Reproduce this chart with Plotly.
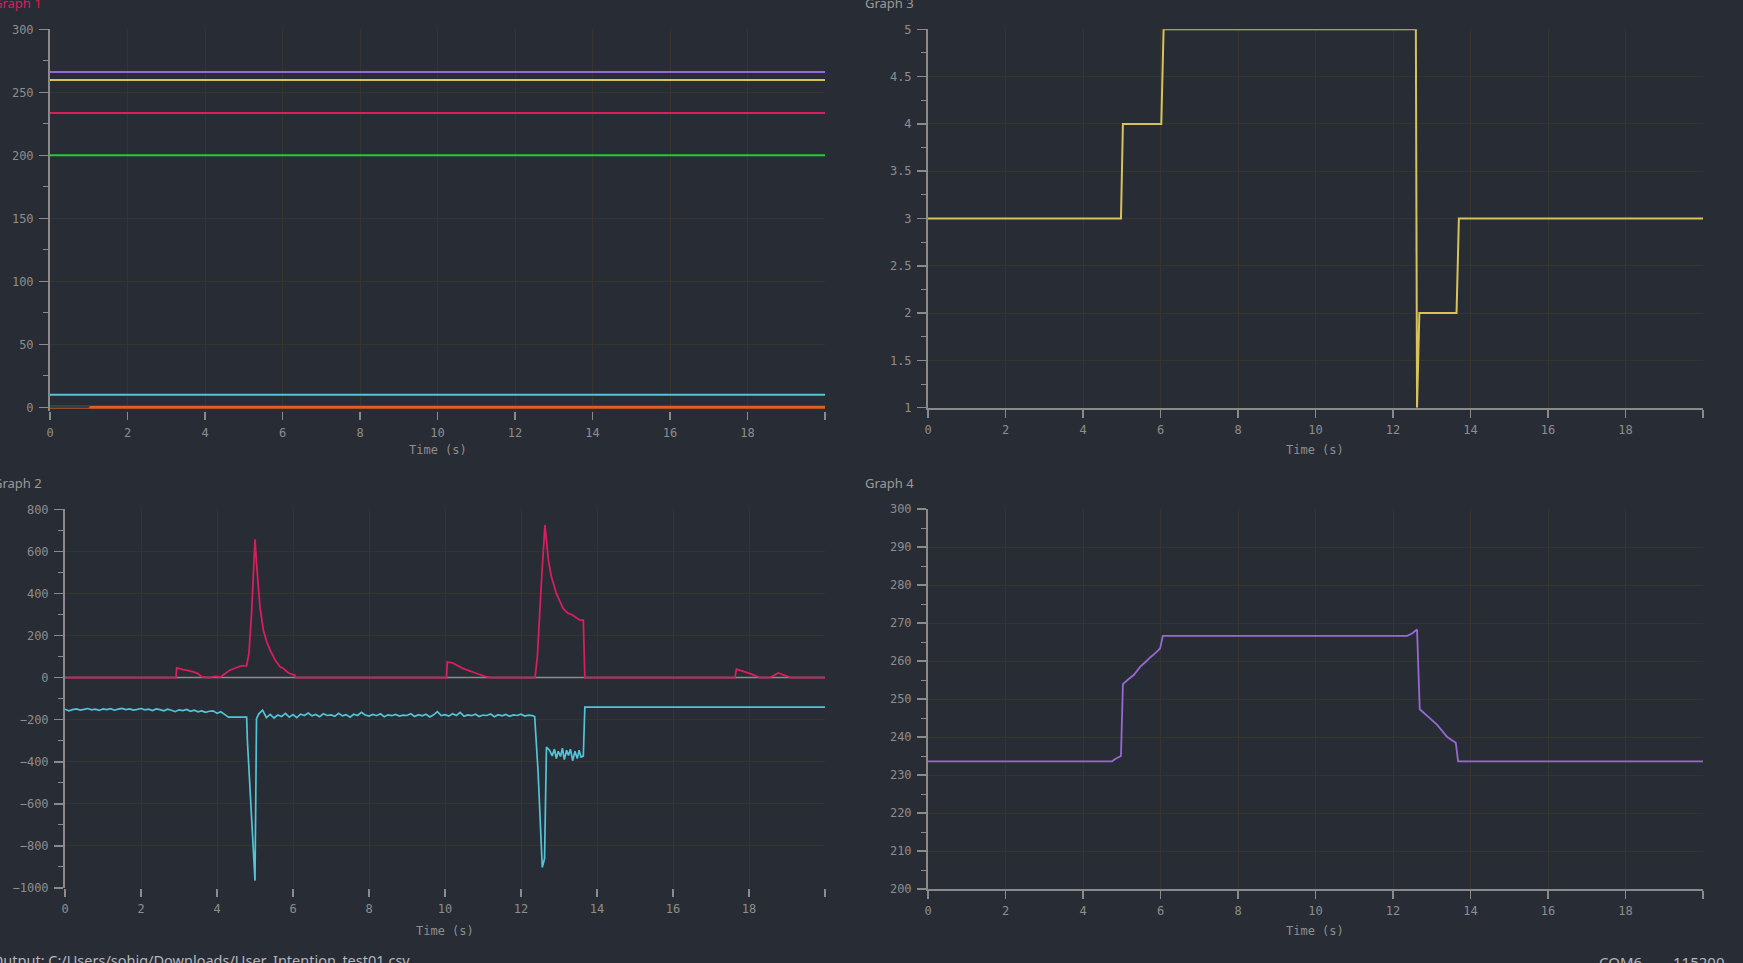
import plotly.graph_objects as go

W, H = 1743, 963
BG = "#282c34"
GRID = "#33352e"
AXIS = "#8a8a8a"
TICKCOL = "#8e8e8e"
MONO = "DejaVu Sans Mono"

PURPLE = "#9669d4"
YELLOW = "#d8c35a"
RED = "#d81e5f"
GREEN = "#28c83c"
CYAN = "#52c4d8"
ORANGE = "#e05f23"

# ---------------- data ----------------
# Graph 1: constant signals
g1_t = [0, 10, 20]
g1_purple = [266.2, 266.2, 266.2]
g1_yellow = [259.8, 259.8, 259.8]
g1_red = [233.6, 233.6, 233.6]
g1_green = [200.0, 200.0, 200.0]
g1_cyan = [10.0, 10.0, 10.0]
g1_orange = [0.0, 0.0, 0.0]

# Graph 2: red signal
g2_red_t = [0, 2.92, 2.94, 3.10, 3.25, 3.38, 3.50, 3.60, 3.80, 3.95, 4.05, 4.10, 4.17, 4.34,
            4.52, 4.62, 4.78, 4.84, 4.91, 5.00, 5.04, 5.13, 5.22, 5.31, 5.40, 5.53, 5.66,
            5.75, 5.88, 6.05, 6.07, 10.04, 10.06, 10.20, 10.48, 10.80, 11.10, 11.20, 12.37,
            12.43, 12.54, 12.63, 12.72, 12.80, 12.93, 13.11, 13.24, 13.33, 13.42, 13.55,
            13.64, 13.68, 17.63, 17.67, 17.85, 18.05, 18.29, 18.55, 18.77, 19.10, 20]
g2_red_v = [0, 0, 46, 38, 33, 27, 19, 3, 0, 6, 4, 3, 14, 35,
            48, 55, 57, 114, 305, 657, 543, 336, 225, 170, 130, 83, 51,
            43, 22, 11, 0, 0, 74, 70, 43, 22, 3, 0, 0,
            98, 463, 725, 560, 479, 400, 328, 305, 300, 289, 273,
            273, 0, 0, 40, 30, 18, 0, 0, 22, 0, 0]

# Graph 2: cyan signal (noisy)
g2_cyan_a = [-150, -158, -152, -149, -154, -151, -147, -153, -150, -156,
             -149, -152, -148, -155, -150, -146, -152, -149, -154, -151,
             -147, -153, -150, -157, -149, -152, -158, -150, -155, -162,
             -153, -157, -151, -160, -155, -163, -158, -165, -160, -158,
             -170, -162, -175]                      # t = 0.0 .. 4.2 step 0.1
g2_cyan_dip1_t = [4.30, 4.78, 4.80, 5.00, 5.04]
g2_cyan_dip1_v = [-188, -188, -300, -965, -195]
g2_cyan_b = [-172, -155, -190, -175, -192, -178, -185, -170, -188, -176,
             -190, -174, -180, -168, -182, -175, -186, -172, -180, -177,
             -184, -170, -182, -176, -188, -174, -180, -165, -178, -183,
             -175, -181, -172, -186, -177, -181, -175, -183, -178, -180,
             -172, -185, -176, -182, -174, -187, -177, -162, -180, -176,
             -183, -172, -180, -165, -184, -177, -181, -174, -185, -178,
             -180, -173, -186, -176, -182, -175, -184, -177, -180, -174,
             -183, -178, -181]                      # t = 5.1 .. 12.3 step 0.1
g2_cyan_dip2_t = [12.36, 12.45, 12.56, 12.62, 12.67, 12.75, 12.82, 12.88, 12.93, 12.98,
                  13.04, 13.09, 13.14, 13.20, 13.25, 13.30, 13.36, 13.42, 13.48, 13.53,
                  13.58, 13.64, 13.68, 20.0]
g2_cyan_dip2_v = [-185, -450, -902, -860, -330, -345, -372, -340, -385, -350,
                  -375, -335, -390, -345, -370, -340, -395, -350, -385, -345,
                  -378, -373, -140, -140]

cyan_t = ([round(0.1 * i, 2) for i in range(len(g2_cyan_a))] + g2_cyan_dip1_t +
          [round(5.1 + 0.1 * i, 2) for i in range(len(g2_cyan_b))] + g2_cyan_dip2_t)
cyan_v = g2_cyan_a + g2_cyan_dip1_v + g2_cyan_b + g2_cyan_dip2_v

# Graph 2: grey baseline signal
g2_grey_t = [0, 20]
g2_grey_v = [0, 0]

# Graph 3: step signal
g3_t = [0, 4.98, 5.03, 6.02, 6.08, 12.59, 12.62, 12.68, 13.64, 13.70, 20]
g3_v = [3, 3, 4, 4, 5, 5, 1, 2, 2, 3, 3]

# Graph 4
g4_t = [0, 4.75, 4.83, 4.98, 5.03, 5.17, 5.31, 5.48, 5.62, 5.74, 5.88, 5.99, 6.06,
        12.37, 12.50, 12.62, 12.69, 12.89, 13.14, 13.40, 13.62, 13.68, 20]
g4_v = [233.6, 233.6, 234.2, 235.0, 253.9, 255.2, 256.3, 258.5, 259.8, 261.0, 262.2, 263.3, 266.6,
        266.6, 267.3, 268.3, 247.3, 245.5, 243.2, 240.0, 238.5, 233.6, 233.6]

x_major = [0, 2, 4, 6, 8, 10, 12, 14, 16, 18, 20]
x_labels = ["0", "2", "4", "6", "8", "10", "12", "14", "16", "18", ""]
x_minor = [1, 3, 5, 7, 9, 11, 13, 15, 17, 19]


def PX(x):
    return x / W


def PY(y):
    return 1 - y / H


fig = go.Figure()

def line(x, y, color, axes, width=2.0):
    xa, ya = axes
    fig.add_trace(go.Scatter(x=x, y=y, mode="lines", xaxis=xa, yaxis=ya,
                             line=dict(color=color, width=width, simplify=False),
                             hoverinfo="skip"))

# Graph 1
line(g1_t, g1_cyan, CYAN, ("x", "y"))
line(g1_t, g1_green, GREEN, ("x", "y"))
line(g1_t, g1_red, RED, ("x", "y"))
line(g1_t, g1_yellow, YELLOW, ("x", "y"))
line(g1_t, g1_purple, PURPLE, ("x", "y"))
line(g1_t, g1_orange, ORANGE, ("x", "y"), 3)
# Graph 2
line(g2_grey_t, g2_grey_v, "#8c8c8c", ("x2", "y2"), 1.5)
line(cyan_t, cyan_v, CYAN, ("x2", "y2"), 1.7)
line(g2_red_t, g2_red_v, RED, ("x2", "y2"), 1.8)
# Graph 3
line(g3_t, g3_v, YELLOW, ("x3", "y3"), 2)
# Graph 4
line(g4_t, g4_v, PURPLE, ("x4", "y4"), 1.8)


def xaxis(dom, anchor, showline=True):
    # minor ticks are drawn as short unlabeled ticks in the same tick array
    return dict(domain=dom, anchor=anchor, range=[0, 20], tickmode="array",
                tickvals=x_major, ticktext=x_labels, ticks="outside", ticklen=8,
                tickwidth=1.5, tickcolor=AXIS, showline=showline, linecolor=AXIS,
                linewidth=2, showgrid=True, gridcolor=GRID, gridwidth=1,
                zeroline=False, tickfont=dict(family=MONO, size=12, color=TICKCOL),
                ticklabelstandoff=2, layer="below traces", automargin=False,
                fixedrange=True)


def yaxis(dom, anchor, rng, tick0, dtick, mdtick):
    return dict(domain=dom, anchor=anchor, range=rng, tick0=tick0, dtick=dtick,
                ticks="outside", ticklen=9, tickwidth=1.5, tickcolor=AXIS,
                showline=True, linecolor=AXIS, linewidth=2, showgrid=True,
                gridcolor=GRID, gridwidth=1, zeroline=False,
                tickfont=dict(family=MONO, size=12, color=TICKCOL),
                ticklabelstandoff=3, layer="below traces", automargin=False,
                fixedrange=True,
                minor=dict(tick0=tick0, dtick=mdtick, ticks="outside", ticklen=5,
                           tickwidth=1, tickcolor=AXIS, showgrid=False))


g1x = [PX(50), PX(825)]
g1y = [PY(411.1), PY(29.3)]
g2x = [PX(65), PX(825)]
g2y = [PY(888), PY(509.3)]
g3x = [PX(928), PX(1703)]
g3y = [PY(407.7), PY(29.3)]
g4x = [PX(928), PX(1703)]
g4y = [PY(889), PY(509)]

# overlay x axes carrying only the short (minor) ticks at odd seconds
def minor_x(dom, anchor, ypos):
    return dict(domain=dom, anchor="free", position=ypos, overlaying=anchor.replace("y", "x") or "x",
                range=[0, 20], tickmode="array", tickvals=x_minor, ticktext=[""] * len(x_minor),
                ticks="outside", ticklen=4, tickwidth=1, tickcolor=AXIS, showgrid=False,
                showline=False, zeroline=False, automargin=False, fixedrange=True,
                layer="below traces", showticklabels=False)


fig.update_layout(
    width=W, height=H, margin=dict(l=0, r=0, t=0, b=0, pad=0), autosize=False,
    paper_bgcolor=BG, plot_bgcolor=BG, showlegend=False, dragmode=False,
    hovermode=False,
    xaxis=xaxis(g1x, "y", showline=False), yaxis=yaxis(g1y, "x", [-3, 300], 0, 50, 25),
    xaxis2=xaxis(g2x, "y2", showline=False),
    yaxis2=yaxis(g2y, "x2", [-1000, 800], -1000, 200, 100),
    xaxis3=xaxis(g3x, "y3"), yaxis3=yaxis(g3y, "x3", [1, 5], 1, 0.5, 0.25),
    xaxis4=xaxis(g4x, "y4"), yaxis4=yaxis(g4y, "x4", [200, 300], 200, 10, 5),
    xaxis5=dict(minor_x(g1x, "", PY(407.3)), overlaying="x"),
    xaxis6=dict(minor_x(g2x, "", PY(888)), overlaying="x2"),
    xaxis7=dict(minor_x(g3x, "", PY(407.7)), overlaying="x3"),
    xaxis8=dict(minor_x(g4x, "", PY(889)), overlaying="x4"),
)

SEP = "#3a3e47"
shapes = [
    # panel separators
    dict(type="line", x0=PX(857.5), x1=PX(857.5), y0=PY(0), y1=PY(949), line=dict(color=SEP, width=2)),
    dict(type="line", x0=PX(0), x1=PX(1737), y0=PY(469), y1=PY(469), line=dict(color=SEP, width=2)),
    dict(type="line", x0=PX(1737), x1=PX(1737), y0=PY(0), y1=PY(949), line=dict(color=SEP, width=2)),
    dict(type="line", x0=PX(0), x1=PX(1743), y0=PY(949), y1=PY(949), line=dict(color=SEP, width=2)),
    # status bar
    dict(type="rect", x0=PX(0), x1=PX(1743), y0=PY(963), y1=PY(950), fillcolor="#1e2025", line=dict(width=0)),
    dict(type="rect", x0=PX(1555), x1=PX(1578), y0=PY(963), y1=PY(951), fillcolor="#a9b0bf", line=dict(width=0)),
    dict(type="line", x0=PX(1561), x1=PX(1570), y0=PY(962), y1=PY(955), line=dict(color="#2a2d33", width=2)),
    dict(type="line", x0=PX(1658), x1=PX(1658), y0=PY(951), y1=PY(963), line=dict(color=SEP, width=1)),
    dict(type="line", x0=PX(1736), x1=PX(1736), y0=PY(951), y1=PY(963), line=dict(color=SEP, width=1)),
]
fig.update_layout(shapes=shapes)

TITLE = dict(family="Noto Sans", size=13)
AXT = dict(family=MONO, size=12, color=TICKCOL)
ann = [
    dict(text="Graph 1", x=PX(-9), y=PY(3), xanchor="left", yanchor="middle", font=dict(color="#d81e5f", **TITLE)),
    dict(text="Graph 2", x=PX(-9), y=PY(483), xanchor="left", yanchor="middle", font=dict(color="#9a9a9a", **TITLE)),
    dict(text="Graph 3", x=PX(863), y=PY(3), xanchor="left", yanchor="middle", font=dict(color="#9a9a9a", **TITLE)),
    dict(text="Graph 4", x=PX(863), y=PY(483), xanchor="left", yanchor="middle", font=dict(color="#9a9a9a", **TITLE)),
    dict(text="Time (s)", x=PX(437.5), y=PY(450), xanchor="center", yanchor="middle", font=AXT),
    dict(text="Time (s)", x=PX(445), y=PY(931), xanchor="center", yanchor="middle", font=AXT),
    dict(text="Time (s)", x=PX(1315), y=PY(450), xanchor="center", yanchor="middle", font=AXT),
    dict(text="Time (s)", x=PX(1315), y=PY(931), xanchor="center", yanchor="middle", font=AXT),
    dict(text="Output: C:/Users/sohig/Downloads/User_Intention_test01.csv", x=PX(-10), y=PY(960),
         xanchor="left", yanchor="middle", font=dict(family="Noto Sans", size=14.5, color="#b4b7bd")),
    dict(text="COM6", x=PX(1597), y=PY(962), xanchor="left", yanchor="middle",
         font=dict(family="Noto Sans", size=15, color="#b4b7bd")),
    dict(text="115200", x=PX(1671), y=PY(962), xanchor="left", yanchor="middle",
         font=dict(family="Noto Sans", size=15, color="#b4b7bd")),
]
for a in ann:
    a.update(xref="paper", yref="paper", showarrow=False)
fig.update_layout(annotations=ann)

fig.write_html("out.html", config={"displayModeBar": False, "responsive": False,
                                   "staticPlot": True},
               post_script="document.body.style.margin='0';document.body.style.overflow='hidden';"
                           "document.documentElement.style.overflow='hidden';")
